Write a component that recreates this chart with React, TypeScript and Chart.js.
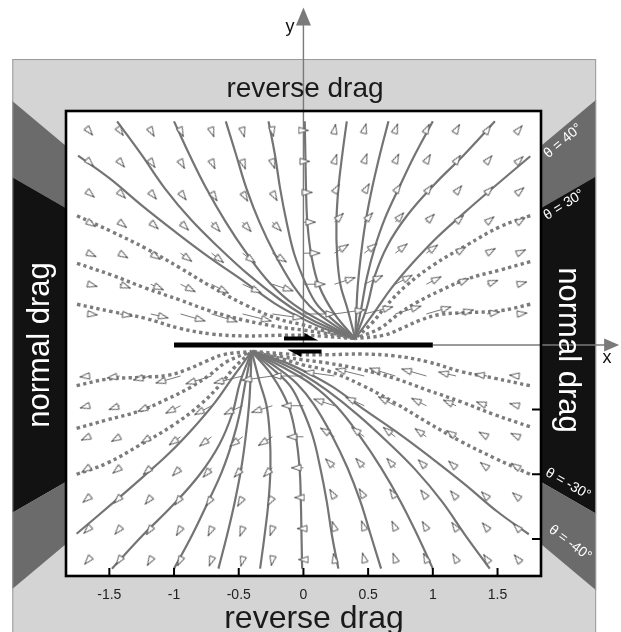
import React, { useEffect, useRef } from "react";
import { Chart, registerables } from "chart.js";
Chart.register(...registerables);

// ---------------- data ----------------
const xTickValues = [-1.5, -1, -0.5, 0, 0.5, 1, 1.5];
const xTickLabels = ["-1.5", "-1", "-0.5", "0", "0.5", "1", "1.5"];
const rightTickValues = [-0.5, -1, -1.5];
const zoneAngles = [30, 40];
const faultEnds = [-1, 1];
const slipUpperX = [-0.15, 0.115];
const slipLowerX = [0.14, -0.125];
const topBottomLabel = "reverse drag";
const sideLabel = "normal drag";
const thetaLabels = ["θ = 40°", "θ = 30°", "θ = -30°", "θ = -40°"];

// deformed marker lines, upper block (solid = reverse drag, dotted = normal drag)
const U40 = [[1.753,1.46],[1.47,1.22],[1.24,1.02],[1.03,0.83],[0.84,0.63],[0.68,0.44],[0.56,0.27],[0.40,0.05]];
const U50 = [[1.48,1.73],[1.24,1.47],[1.01,1.24],[0.80,1.0],[0.65,0.77],[0.55,0.53],[0.49,0.29],[0.40,0.05]];
const U60 = [[1.0,1.73],[0.86,1.47],[0.74,1.22],[0.63,0.98],[0.55,0.75],[0.49,0.52],[0.45,0.30],[0.40,0.05]];
const U70 = [[0.657,1.73],[0.59,1.47],[0.53,1.21],[0.48,0.95],[0.445,0.70],[0.42,0.46],[0.41,0.28],[0.40,0.05]];
const U80 = [[0.335,1.73],[0.30,1.47],[0.27,1.21],[0.255,0.95],[0.26,0.70],[0.285,0.47],[0.34,0.28],[0.40,0.05]];
const U90 = [[0.01,1.73],[0.015,1.47],[0.02,1.21],[0.03,0.95],[0.06,0.70],[0.12,0.46],[0.24,0.24],[0.40,0.05]];
const U100 = [[-0.27,1.73],[-0.22,1.47],[-0.18,1.21],[-0.13,0.95],[-0.07,0.70],[0.02,0.47],[0.10,0.32],[0.21,0.21],[0.40,0.05]];
const U110 = [[-0.60,1.73],[-0.52,1.47],[-0.44,1.21],[-0.34,0.95],[-0.22,0.70],[-0.08,0.46],[0.05,0.30],[0.19,0.186],[0.40,0.05]];
const U120 = [[-1.0,1.73],[-0.88,1.47],[-0.75,1.21],[-0.60,0.95],[-0.44,0.71],[-0.26,0.48],[-0.07,0.31],[0.177,0.163],[0.40,0.05]];
const U130 = [[-1.44,1.73],[-1.25,1.47],[-1.07,1.21],[-0.87,0.97],[-0.65,0.75],[-0.42,0.54],[-0.18,0.35],[0.0,0.23],[0.168,0.144],[0.40,0.05]];
const U140 = [[-1.742,1.464],[-1.50,1.29],[-1.25,1.08],[-0.99,0.875],[-0.73,0.68],[-0.47,0.50],[-0.22,0.32],[0.0,0.20],[0.162,0.127],[0.40,0.05]];
const D150 = [[-1.75,1.0],[-1.48,0.876],[-1.22,0.748],[-0.96,0.60],[-0.71,0.45],[-0.45,0.31],[-0.19,0.20],[0.0,0.155],[0.157,0.11],[0.40,0.05]];
const D160 = [[-1.75,0.632],[-1.48,0.54],[-1.22,0.44],[-0.96,0.35],[-0.71,0.26],[-0.45,0.19],[-0.19,0.14],[0.0,0.115],[0.154,0.093],[0.40,0.05]];
const D170 = [[-1.75,0.315],[-1.48,0.258],[-1.22,0.206],[-0.96,0.13],[-0.71,0.085],[-0.45,0.07],[-0.19,0.075],[0.0,0.075],[0.15,0.068],[0.40,0.05]];
const D30 = [[1.753,1.0],[1.52,0.915],[1.263,0.773],[1.005,0.619],[0.80,0.464],[0.645,0.309],[0.53,0.17],[0.40,0.05]];
const D20 = [[1.753,0.645],[1.52,0.58],[1.263,0.51],[1.057,0.42],[0.877,0.33],[0.722,0.23],[0.593,0.13],[0.40,0.05]];
const D10 = [[1.753,0.315],[1.52,0.265],[1.263,0.25],[1.05,0.235],[0.90,0.19],[0.75,0.125],[0.62,0.075],[0.40,0.05]];

// lower block
const L220 = [[-1.753,-1.46],[-1.47,-1.22],[-1.24,-1.02],[-1.03,-0.83],[-0.84,-0.63],[-0.68,-0.44],[-0.56,-0.27],[-0.40,-0.05]];
const L230 = [[-1.48,-1.73],[-1.24,-1.47],[-1.01,-1.24],[-0.80,-1.0],[-0.65,-0.77],[-0.55,-0.53],[-0.49,-0.29],[-0.40,-0.05]];
const L240 = [[-1.0,-1.73],[-0.86,-1.47],[-0.74,-1.22],[-0.63,-0.98],[-0.55,-0.75],[-0.49,-0.52],[-0.45,-0.30],[-0.40,-0.05]];
const L250 = [[-0.657,-1.73],[-0.59,-1.47],[-0.53,-1.21],[-0.48,-0.95],[-0.445,-0.70],[-0.42,-0.46],[-0.41,-0.28],[-0.40,-0.05]];
const L260 = [[-0.335,-1.73],[-0.30,-1.47],[-0.27,-1.21],[-0.255,-0.95],[-0.26,-0.70],[-0.285,-0.47],[-0.34,-0.28],[-0.40,-0.05]];
const L270 = [[-0.01,-1.73],[-0.015,-1.47],[-0.02,-1.21],[-0.03,-0.95],[-0.06,-0.70],[-0.12,-0.46],[-0.24,-0.24],[-0.40,-0.05]];
const L280 = [[0.27,-1.73],[0.22,-1.47],[0.18,-1.21],[0.13,-0.95],[0.07,-0.70],[-0.02,-0.47],[-0.10,-0.32],[-0.21,-0.21],[-0.40,-0.05]];
const L290 = [[0.60,-1.73],[0.52,-1.47],[0.44,-1.21],[0.34,-0.95],[0.22,-0.70],[0.08,-0.46],[-0.05,-0.30],[-0.19,-0.186],[-0.40,-0.05]];
const L300 = [[1.0,-1.73],[0.88,-1.47],[0.75,-1.21],[0.60,-0.95],[0.44,-0.71],[0.26,-0.48],[0.07,-0.31],[-0.177,-0.163],[-0.40,-0.05]];
const L310 = [[1.44,-1.73],[1.25,-1.47],[1.07,-1.21],[0.87,-0.97],[0.65,-0.75],[0.42,-0.54],[0.18,-0.35],[0.0,-0.23],[-0.168,-0.144],[-0.40,-0.05]];
const L320 = [[1.742,-1.464],[1.50,-1.29],[1.25,-1.08],[0.99,-0.875],[0.73,-0.68],[0.47,-0.50],[0.22,-0.32],[0.0,-0.20],[-0.162,-0.127],[-0.40,-0.05]];
const D330 = [[1.75,-1.0],[1.48,-0.876],[1.22,-0.748],[0.96,-0.60],[0.71,-0.45],[0.45,-0.31],[0.19,-0.20],[0.0,-0.155],[-0.157,-0.11],[-0.40,-0.05]];
const D340 = [[1.75,-0.632],[1.48,-0.54],[1.22,-0.44],[0.96,-0.35],[0.71,-0.26],[0.45,-0.19],[0.19,-0.14],[0.0,-0.115],[-0.154,-0.093],[-0.40,-0.05]];
const D350 = [[1.75,-0.315],[1.48,-0.258],[1.22,-0.206],[0.96,-0.13],[0.71,-0.085],[0.45,-0.07],[0.19,-0.075],[0.0,-0.075],[-0.15,-0.068],[-0.40,-0.05]];
const D210 = [[-1.753,-1.0],[-1.52,-0.915],[-1.263,-0.773],[-1.005,-0.619],[-0.80,-0.464],[-0.645,-0.309],[-0.53,-0.17],[-0.40,-0.05]];
const D200 = [[-1.753,-0.645],[-1.52,-0.58],[-1.263,-0.51],[-1.057,-0.42],[-0.877,-0.33],[-0.722,-0.23],[-0.593,-0.13],[-0.40,-0.05]];
const D190 = [[-1.753,-0.315],[-1.52,-0.265],[-1.263,-0.25],[-1.05,-0.235],[-0.90,-0.19],[-0.75,-0.125],[-0.62,-0.075],[-0.40,-0.05]];

const solidLines = [U40, U50, U60, U70, U80, U90, U100, U110, U120, U130, U140, L220, L230, L240, L250, L260, L270, L280, L290, L300, L310, L320];
const dottedLines = [D10, D20, D30, D150, D160, D170, D190, D200, D210, D330, D340, D350];

// displacement vectors on a grid
const arrowColsX = [-1.66, -1.42, -1.18, -0.95, -0.71, -0.47, -0.24, 0, 0.24, 0.47, 0.71, 0.95, 1.18, 1.42, 1.66];
const arrowRowsY = [1.66, 1.42, 1.18, 0.95, 0.71, 0.47, 0.24, -0.24, -0.47, -0.71, -0.95, -1.18, -1.42, -1.66];
const arrowAngles = [
  [-50, -55, -60, -65, -70, -75, -80, 0, 80, 75, 70, 65, 60, 55, 50],
  [-45, -50, -55, -60, -65, -70, -72, 0, 72, 70, 65, 60, 55, 50, 45],
  [-40, -45, -50, -53, -57, -60, -60, 0, 60, 60, 57, 53, 50, 45, 40],
  [-33, -38, -42, -45, -48, -48, -45, 0, 45, 48, 48, 45, 42, 38, 33],
  [-25, -30, -33, -36, -38, -37, -32, 0, 32, 37, 38, 36, 33, 30, 25],
  [-15, -20, -24, -27, -28, -25, -18, 0, 18, 25, 28, 27, 24, 20, 15],
  [-6, -9, -13, -16, -17, -14, -8, 0, 8, 14, 17, 16, 13, 9, 6],
  [186, 189, 193, 196, 197, 194, 188, 180, 172, 166, 163, 164, 167, 171, 174],
  [195, 200, 204, 207, 208, 205, 198, 180, 162, 155, 152, 153, 156, 160, 165],
  [205, 210, 213, 216, 218, 217, 212, 180, 148, 143, 142, 144, 147, 150, 155],
  [213, 218, 222, 225, 228, 228, 225, 180, 135, 132, 132, 135, 138, 142, 147],
  [220, 225, 230, 233, 237, 240, 240, 180, 120, 120, 123, 127, 130, 135, 140],
  [225, 230, 235, 240, 245, 250, 252, 180, 108, 110, 115, 120, 125, 130, 135],
  [230, 235, 240, 245, 250, 255, 260, 180, 100, 105, 110, 115, 120, 125, 130],
];
const arrowLengths = [
  [0.05, 0.05, 0.055, 0.055, 0.055, 0.055, 0.05, 0.04, 0.05, 0.055, 0.055, 0.055, 0.055, 0.05, 0.05],
  [0.055, 0.06, 0.06, 0.065, 0.065, 0.065, 0.06, 0.05, 0.06, 0.065, 0.065, 0.065, 0.06, 0.06, 0.055],
  [0.06, 0.065, 0.07, 0.075, 0.08, 0.08, 0.075, 0.07, 0.075, 0.08, 0.08, 0.075, 0.07, 0.065, 0.06],
  [0.065, 0.07, 0.08, 0.09, 0.10, 0.10, 0.10, 0.095, 0.10, 0.10, 0.10, 0.09, 0.08, 0.07, 0.065],
  [0.065, 0.075, 0.09, 0.11, 0.12, 0.125, 0.13, 0.13, 0.13, 0.125, 0.12, 0.11, 0.09, 0.075, 0.065],
  [0.07, 0.09, 0.11, 0.13, 0.15, 0.16, 0.17, 0.17, 0.17, 0.16, 0.15, 0.13, 0.11, 0.09, 0.07],
  [0.07, 0.10, 0.14, 0.20, 0.21, 0.23, 0.24, 0.25, 0.24, 0.23, 0.21, 0.20, 0.14, 0.10, 0.07],
  [0.07, 0.10, 0.14, 0.20, 0.21, 0.23, 0.24, 0.25, 0.24, 0.23, 0.21, 0.20, 0.14, 0.10, 0.07],
  [0.07, 0.09, 0.11, 0.13, 0.15, 0.16, 0.17, 0.17, 0.17, 0.16, 0.15, 0.13, 0.11, 0.09, 0.07],
  [0.065, 0.075, 0.09, 0.11, 0.12, 0.125, 0.13, 0.13, 0.13, 0.125, 0.12, 0.11, 0.09, 0.075, 0.065],
  [0.065, 0.07, 0.08, 0.09, 0.10, 0.10, 0.10, 0.095, 0.10, 0.10, 0.10, 0.09, 0.08, 0.07, 0.065],
  [0.06, 0.065, 0.07, 0.075, 0.08, 0.08, 0.075, 0.07, 0.075, 0.08, 0.08, 0.075, 0.07, 0.065, 0.06],
  [0.055, 0.06, 0.06, 0.065, 0.065, 0.065, 0.06, 0.05, 0.06, 0.065, 0.065, 0.065, 0.06, 0.06, 0.055],
  [0.05, 0.05, 0.055, 0.055, 0.055, 0.055, 0.05, 0.04, 0.05, 0.055, 0.055, 0.055, 0.055, 0.05, 0.05],
];

// ---------------- layout / style ----------------
const X_MIN = -1.835, X_MAX = 1.836, Y_MIN = -1.787, Y_MAX = 1.81;
const FRAME = { left: -2.25, right: 2.262, top: 2.212, bottom: -2.4 };
const AXIS_TIP = { x: 2.44, y: 2.61 };
const FONT = '"Liberation Sans", Arial, Helvetica, sans-serif';
const LIGHT = "#d4d4d4", DARK = "#6b6b6b", BLACK = "#121212";

export default function App() {
  const ref = useRef<HTMLCanvasElement | null>(null);

  useEffect(() => {
    const canvas = ref.current;
    if (!canvas) return;

    // arrowhead glyph (apex at the image centre)
    const head = document.createElement("canvas");
    head.width = 12;
    head.height = 22;
    const hc = head.getContext("2d")!;
    hc.beginPath();
    hc.moveTo(6, 11.5);
    hc.lineTo(9.2, 21);
    hc.lineTo(2.8, 21);
    hc.closePath();
    hc.fillStyle = "#ffffff";
    hc.fill();
    hc.strokeStyle = "#5a5a5a";
    hc.lineWidth = 1;
    hc.stroke();

    // arrows table
    const shafts: { x: number; y: number }[] = [];
    const tips: { x: number; y: number }[] = [];
    const tipRot: number[] = [];
    arrowRowsY.forEach((gy, r) => {
      arrowColsX.forEach((gx, c) => {
        const a = (arrowAngles[r][c] * Math.PI) / 180;
        const L = arrowLengths[r][c];
        const tx = gx + L * Math.cos(a);
        const ty = gy + L * Math.sin(a);
        shafts.push({ x: gx, y: gy }, { x: tx, y: ty }, { x: NaN, y: NaN });
        tips.push({ x: tx, y: ty });
        tipRot.push(90 - arrowAngles[r][c]);
      });
    });

    const toPts = (arr: number[][]) => arr.map(([x, y]) => ({ x, y }));

    const datasets: any[] = [];
    solidLines.forEach((ln) =>
      datasets.push({
        data: toPts(ln),
        borderColor: "#747474",
        borderWidth: 2.2,
        pointRadius: 0,
        tension: 0.4,
        fill: false,
        order: 4,
      })
    );
    dottedLines.forEach((ln) =>
      datasets.push({
        data: toPts(ln),
        borderColor: "#7c7c7c",
        borderWidth: 3.4,
        borderDash: [3.3, 3.3],
        borderCapStyle: "butt",
        pointRadius: 0,
        tension: 0.4,
        fill: false,
        order: 4,
      })
    );
    datasets.push({
      data: shafts,
      borderColor: "#6a6a6a",
      borderWidth: 0.9,
      pointRadius: 0,
      spanGaps: false,
      tension: 0,
      fill: false,
      order: 3,
    });
    datasets.push({
      data: tips,
      showLine: false,
      pointStyle: head,
      pointRadius: 5,
      pointRotation: (ctx: any) => tipRot[ctx.dataIndex] ?? 0,
      order: 2,
    });
    datasets.push({
      data: faultEnds.map((x) => ({ x, y: 0 })),
      borderColor: "#000000",
      borderWidth: 5,
      borderCapStyle: "butt",
      pointRadius: 0,
      order: 1,
    });

    const drawText = (
      ctx: CanvasRenderingContext2D,
      text: string,
      x: number,
      y: number,
      rot: number,
      size: number,
      color: string,
      baseline: CanvasTextBaseline = "middle"
    ) => {
      ctx.save();
      ctx.translate(x, y);
      ctx.rotate((rot * Math.PI) / 180);
      ctx.font = `${size}px ${FONT}`;
      ctx.fillStyle = color;
      ctx.textAlign = "center";
      ctx.textBaseline = baseline;
      ctx.fillText(text, 0, 0);
      ctx.restore();
    };

    const figPlugin = {
      id: "fig",
      beforeDraw(chart: any) {
        const { ctx, chartArea: a } = chart;
        const xs = chart.scales.x, ys = chart.scales.y;
        const px = (v: number) => xs.getPixelForValue(v);
        const py = (v: number) => ys.getPixelForValue(v);
        const L = px(FRAME.left), R = px(FRAME.right), T = py(FRAME.top), B = py(FRAME.bottom);
        ctx.save();
        ctx.fillStyle = LIGHT;
        ctx.fillRect(L, T, R - L, B - T);
        ctx.save();
        ctx.beginPath();
        ctx.rect(L, T, R - L, B - T);
        ctx.clip();
        const O = { x: px(0), y: py(0) };
        const wedge = (a1: number, a2: number, color: string) => {
          const rr = 8;
          ctx.beginPath();
          ctx.moveTo(O.x, O.y);
          const n = 6;
          for (let i = 0; i <= n; i++) {
            const t = ((a1 + ((a2 - a1) * i) / n) * Math.PI) / 180;
            ctx.lineTo(px(rr * Math.cos(t)), py(rr * Math.sin(t)));
          }
          ctx.closePath();
          ctx.fillStyle = color;
          ctx.fill();
        };
        const [t30, t40] = zoneAngles;
        wedge(t30, t40, DARK);
        wedge(-t30, t30, BLACK);
        wedge(-t40, -t30, DARK);
        wedge(180 - t40, 180 - t30, DARK);
        wedge(180 - t30, 180 + t30, BLACK);
        wedge(180 + t30, 180 + t40, DARK);
        ctx.restore();
        ctx.strokeStyle = "#9a9a9a";
        ctx.lineWidth = 1;
        ctx.strokeRect(L + 0.5, T + 0.5, R - L - 1, B - T);
        ctx.fillStyle = "#ffffff";
        ctx.fillRect(a.left, a.top, a.right - a.left, a.bottom - a.top);
        ctx.restore();
      },
      beforeDatasetsDraw(chart: any) {
        const { ctx } = chart;
        const xs = chart.scales.x, ys = chart.scales.y;
        const px = (v: number) => xs.getPixelForValue(v);
        const py = (v: number) => ys.getPixelForValue(v);
        ctx.save();
        ctx.strokeStyle = "#7a7a7a";
        ctx.fillStyle = "#7a7a7a";
        ctx.lineWidth = 1.4;
        // y axis
        const X0 = px(0), Y0 = py(0);
        const yTip = py(AXIS_TIP.y);
        ctx.beginPath();
        ctx.moveTo(X0, Y0);
        ctx.lineTo(X0, yTip + 14);
        ctx.stroke();
        ctx.beginPath();
        ctx.moveTo(X0, yTip);
        ctx.lineTo(X0 + 7.5, yTip + 18);
        ctx.lineTo(X0 - 7.5, yTip + 18);
        ctx.closePath();
        ctx.fill();
        // x axis
        const xTip = px(AXIS_TIP.x);
        ctx.beginPath();
        ctx.moveTo(px(faultEnds[1]), Y0);
        ctx.lineTo(xTip - 12, Y0);
        ctx.stroke();
        ctx.beginPath();
        ctx.moveTo(xTip, Y0);
        ctx.lineTo(xTip - 15, Y0 - 6.5);
        ctx.lineTo(xTip - 15, Y0 + 6.5);
        ctx.closePath();
        ctx.fill();
        ctx.restore();
      },
      afterDraw(chart: any) {
        const { ctx, chartArea: a } = chart;
        const xs = chart.scales.x, ys = chart.scales.y;
        const px = (v: number) => xs.getPixelForValue(v);
        const py = (v: number) => ys.getPixelForValue(v);
        ctx.save();
        // plot frame
        ctx.strokeStyle = "#000";
        ctx.lineWidth = 2.6;
        ctx.strokeRect(a.left, a.top, a.right - a.left, a.bottom - a.top);
        // inward ticks
        ctx.lineWidth = 2;
        ctx.beginPath();
        xTickValues.forEach((v) => {
          const X = px(v);
          ctx.moveTo(X, a.bottom);
          ctx.lineTo(X, a.bottom - 8);
        });
        rightTickValues.forEach((v) => {
          const Y = py(v);
          ctx.moveTo(a.right, Y);
          ctx.lineTo(a.right - 9, Y);
        });
        ctx.stroke();
        // slip half-arrows
        ctx.fillStyle = "#000";
        const slip = (x0: number, x1: number, yv: number, dir: number) => {
          const X0 = px(x0), X1 = px(x1), Y = py(yv);
          const s = Math.sign(X1 - X0);
          const Xh = X1 - s * 14;
          ctx.beginPath();
          ctx.moveTo(X0, Y);
          ctx.lineTo(X0, Y + dir * 4);
          ctx.lineTo(Xh, Y + dir * 4);
          ctx.lineTo(Xh, Y + dir * 7.5);
          ctx.lineTo(X1, Y);
          ctx.closePath();
          ctx.fill();
        };
        slip(slipUpperX[0], slipUpperX[1], 0.035, -1);
        slip(slipLowerX[0], slipLowerX[1], -0.035, 1);
        ctx.restore();

        // labels
        drawText(ctx, topBottomLabel, 305, 96.5, 0, 28, "#1a1a1a", "alphabetic");
        drawText(ctx, topBottomLabel, 314, 628, 0, 32, "#1a1a1a", "alphabetic");
        drawText(ctx, sideLabel, 40, 345, -90, 31, "#ffffff");
        drawText(ctx, sideLabel, 568, 350, 90, 31, "#ffffff");
        drawText(ctx, thetaLabels[0], 563, 141, -40, 14, "#ffffff");
        drawText(ctx, thetaLabels[1], 564, 205, -32, 14, "#ffffff");
        drawText(ctx, thetaLabels[2], 568, 484, 30, 14, "#ffffff");
        drawText(ctx, thetaLabels[3], 570, 543, 37, 14, "#ffffff");
        drawText(ctx, "y", 290, 27, 0, 18, "#111");
        drawText(ctx, "x", 607, 358, 0, 18, "#111");
      },
    };

    const chart = new Chart(canvas, {
      type: "line",
      data: { datasets },
      options: {
        animation: false,
        responsive: false,
        maintainAspectRatio: false,
        devicePixelRatio: 1,
        layout: { padding: { left: 66, right: 80, top: 111, bottom: 26 } },
        plugins: { legend: { display: false }, tooltip: { enabled: false } },
        scales: {
          x: {
            type: "linear",
            min: X_MIN,
            max: X_MAX,
            afterBuildTicks: (s: any) => {
              s.ticks = xTickValues.map((v) => ({ value: v }));
            },
            afterFit: (s: any) => {
              s.height = 30;
            },
            ticks: {
              callback: (_v: any, i: number) => xTickLabels[i],
              font: { family: FONT, size: 14 },
              color: "#222",
              padding: 11,
              maxRotation: 0,
              autoSkip: false,
            },
            grid: { display: false, drawTicks: false },
            border: { display: false },
          },
          y: { type: "linear", min: Y_MIN, max: Y_MAX, display: false },
        },
      } as any,
      plugins: [figPlugin],
    });
    return () => chart.destroy();
  }, []);

  return (
    <div style={{ position: "absolute", left: 0, top: 0, width: 621, height: 632 }}>
      <canvas ref={ref} width={621} height={632} style={{ display: "block", width: 621, height: 632 }} />
    </div>
  );
}
